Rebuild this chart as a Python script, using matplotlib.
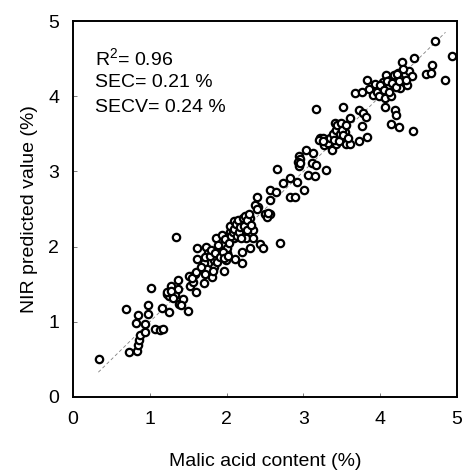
import matplotlib
matplotlib.use("Agg")
import matplotlib.pyplot as plt

plt.rcParams["font.family"] = ["Liberation Sans", "DejaVu Sans"]
plt.rcParams["mathtext.fontset"] = "custom"
plt.rcParams["mathtext.rm"] = "Liberation Sans"
plt.rcParams["mathtext.it"] = "Liberation Sans"

# reference (lab) malic acid content, %
measured = [
    0.34, 0.69, 0.73, 0.83, 0.84, 0.86, 0.87, 0.94, 0.94, 0.82, 0.85, 0.97, 0.97, 1.01,
    1.07, 1.13, 1.17, 1.16, 1.25, 1.23, 1.25, 1.28, 1.34, 1.33, 1.37, 1.37, 1.38, 1.43,
    1.50, 1.51, 1.52, 1.56, 1.59, 1.60, 1.62, 1.62, 1.69, 1.70, 1.73, 1.74, 1.76, 1.78,
    1.81, 1.83, 1.84, 1.86, 1.87, 1.91, 1.93, 1.94, 1.96, 1.97, 1.99, 2.00, 2.01, 2.04,
    2.05, 2.09, 2.10, 2.11, 2.12, 2.14, 2.17, 2.17, 2.20, 2.20, 2.22, 2.25, 2.28, 2.30,
    2.31, 2.34, 2.35, 2.39, 2.41, 2.43, 2.48, 2.53, 2.56, 2.57, 2.57, 2.64, 2.66, 2.70,
    2.73, 2.82, 2.83, 2.89, 2.92, 2.94, 2.94, 2.96, 3.01, 3.04, 3.06, 3.11, 3.13, 3.15,
    3.16, 3.17, 3.21, 3.26, 3.27, 3.29, 3.30, 3.34, 3.37, 3.39, 3.41, 3.41, 3.43, 3.45,
    3.48, 3.51, 3.52, 3.53, 3.54, 3.56, 3.61, 3.61, 3.67, 3.72, 3.73, 3.76, 3.76, 3.78,
    3.81, 3.83, 3.83, 3.86, 3.90, 3.93, 3.96, 3.98, 4.02, 4.04, 4.06, 4.06, 4.08, 4.11,
    4.13, 4.14, 4.14, 4.19, 4.21, 4.21, 4.23, 4.24, 4.26, 4.28, 4.29, 4.32, 4.35, 4.38,
    4.41, 4.43, 4.44, 4.59, 4.66, 4.67, 4.71, 4.84, 4.93,
    1.70, 1.72, 1.75, 1.79, 1.80, 1.82, 1.85, 1.88, 1.89, 1.92, 1.95, 1.97, 1.98, 2.02,
    2.03, 2.06, 2.08, 2.10, 2.12, 2.14, 2.15, 2.16, 2.18, 2.19, 2.21, 2.23, 2.24, 2.26,
    2.27, 2.29, 2.32, 1.22, 1.27, 1.30, 1.40, 2.50, 2.52, 2.54, 2.37, 2.40, 3.32, 3.35,
    3.38, 3.40, 3.42, 3.44, 3.46, 3.47, 3.49, 3.50, 3.52, 3.55, 3.58, 3.20, 3.25, 4.00,
    4.05, 4.09, 4.12, 4.16, 4.18, 4.20, 4.22, 4.25, 4.30, 4.34, 2.93, 2.95, 1.55, 1.60,
    1.66, 1.72,
]

# NIR predicted malic acid, %
predicted = [
    0.51, 1.17, 0.60, 0.61, 0.69, 0.76, 0.83, 0.86, 0.97, 0.99, 1.09, 1.10, 1.23, 1.45,
    0.91, 0.89, 0.91, 1.19, 1.13, 1.37, 1.34, 1.47, 2.13, 1.36, 1.56, 1.44, 1.24, 1.30,
    1.14, 1.61, 1.47, 1.53, 1.64, 1.40, 1.98, 1.84, 1.71, 1.52, 1.99, 1.84, 1.91, 1.78,
    1.60, 1.73, 1.82, 2.11, 1.95, 1.89, 1.98, 2.15, 1.67, 2.04, 1.82, 1.91, 1.98, 2.20,
    2.27, 2.34, 2.11, 1.84, 2.18, 2.22, 2.15, 2.27, 1.93, 1.78, 2.33, 2.11, 2.31, 1.98,
    2.38, 2.22, 2.11, 2.66, 2.53, 2.03, 1.98, 2.42, 2.44, 2.75, 2.62, 2.72, 3.03, 2.05,
    2.84, 2.66, 2.91, 2.66, 2.86, 3.20, 3.07, 3.16, 2.75, 3.28, 2.95, 3.11, 3.25, 2.94,
    3.83, 3.09, 3.44, 3.44, 3.35, 3.02, 3.40, 3.35, 3.28, 3.44, 3.64, 3.53, 3.37, 3.48,
    3.57, 3.44, 3.85, 3.60, 3.53, 3.37, 3.37, 3.71, 4.04, 3.82, 3.41, 3.60, 4.05, 3.77,
    3.73, 4.22, 3.46, 4.09, 4.02, 4.16, 4.06, 4.00, 4.12, 4.19, 3.97, 3.85, 4.28, 4.13,
    4.22, 4.00, 3.63, 3.82, 4.24, 3.75, 4.31, 3.59, 4.11, 4.25, 4.45, 4.30, 4.15, 4.34,
    4.27, 3.54, 4.51, 4.30, 4.31, 4.41, 4.73, 4.22, 4.53,
    1.78, 1.86, 1.70, 1.87, 1.95, 1.68, 1.91, 1.80, 2.02, 1.86, 1.93, 1.85, 2.10, 1.88,
    2.05, 2.14, 2.20, 2.24, 2.30, 2.14, 2.35, 2.20, 2.26, 2.12, 2.38, 2.27, 2.41, 2.22,
    2.36, 2.44, 2.29, 1.39, 1.41, 1.32, 1.22, 2.43, 2.40, 2.45, 2.55, 2.50, 3.38, 3.45,
    3.50, 3.42, 3.55, 3.62, 3.41, 3.50, 3.65, 3.55, 3.48, 3.62, 3.45, 3.42, 3.40, 4.15,
    4.08, 4.20, 4.05, 4.17, 4.28, 4.12, 4.30, 4.20, 4.36, 4.22, 3.13, 3.11, 1.58, 1.66,
    1.73, 1.64,
]

line_ends = [0.33, 4.85]
ticks = [0, 1, 2, 3, 4, 5]
stats_lines = ["R$^{\\mathregular{2}}$= 0.96", "SEC= 0.21 %", "SECV= 0.24 %"]

fig = plt.figure(figsize=(4.66, 4.72), dpi=100)
ax = fig.add_axes([0.1567, 0.1589, 0.8240, 0.7966])

ax.plot(line_ends, line_ends, color="0.5", lw=0.6, ls=(0, (4, 3)), zorder=1)
ax.scatter(measured, predicted, s=28, facecolors="white", edgecolors="black",
           linewidths=1.6, zorder=2)

ax.set_xlim(0, 5)
ax.set_ylim(0, 5)
ax.set_xticks(ticks)
ax.set_yticks(ticks)
ax.tick_params(direction="in", length=3, width=0.6, color="0.4",
               labelsize=14, pad=10)
for side in ax.spines.values():
    side.set_linewidth(1.4)

ax.set_xlabel("Malic acid content (%)", fontsize=14, labelpad=18)
ax.set_ylabel("NIR predicted value (%)", fontsize=14, labelpad=7)

for i, line in enumerate(stats_lines):
    ax.text(0.057, 0.902 - i * 0.066, line, transform=ax.transAxes,
            fontsize=14, va="center", ha="left")

fig.savefig("out.png", dpi=100)
plt.close(fig)
